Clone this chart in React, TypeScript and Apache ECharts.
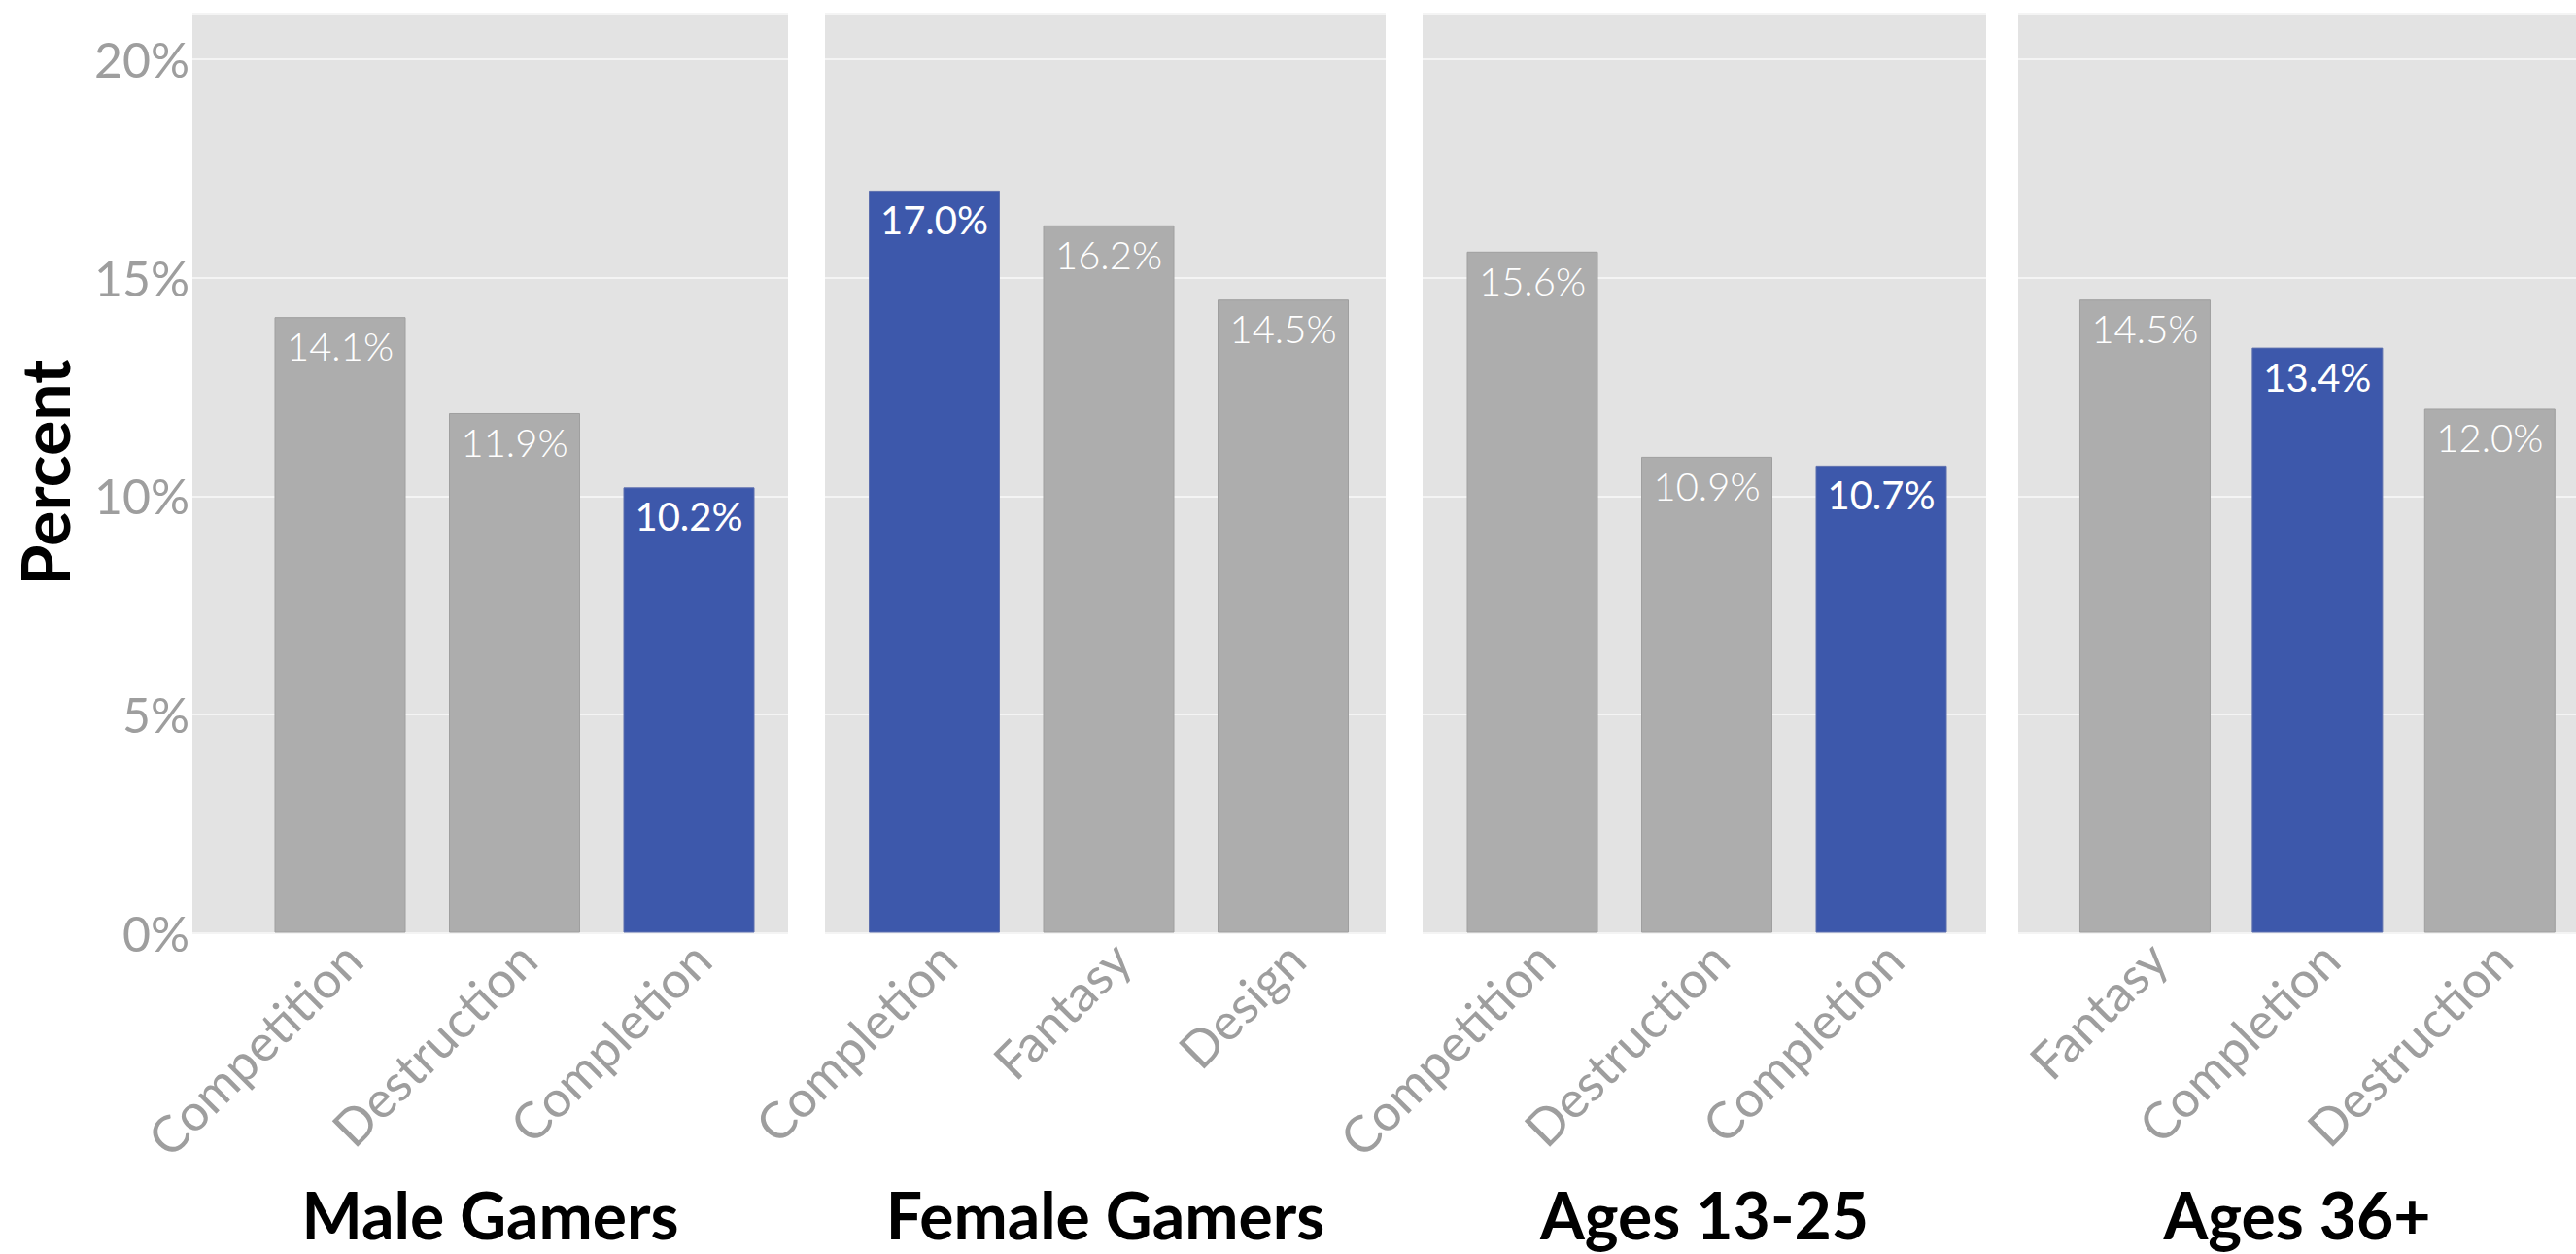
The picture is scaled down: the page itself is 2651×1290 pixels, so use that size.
import React, { useEffect, useRef } from 'react';
import * as echarts from 'echarts';

// ---------- data ----------
const maleCategories = ['Competition', 'Destruction', 'Completion'];
const maleValues = [14.1, 11.9, 10.2];
const femaleCategories = ['Completion', 'Fantasy', 'Design'];
const femaleValues = [17.0, 16.2, 14.5];
const youngCategories = ['Competition', 'Destruction', 'Completion'];
const youngValues = [15.6, 10.9, 10.7];
const olderCategories = ['Fantasy', 'Completion', 'Destruction'];
const olderValues = [14.5, 13.4, 12.0];
const panelTitles = ['Male Gamers', 'Female Gamers', 'Ages 13-25', 'Ages 36+'];
const highlightCategory = 'Completion';
const yTickValues = [0, 5, 10, 15, 20];
const yAxisTitle = 'Percent';

// ---------- layout / style ----------
const W = 2651;
const H = 1290;
const PANEL_TOP = 14;
const PANEL_HEIGHT = 945.5;
const Y_MAX = 21.05;
const panelBoxes = [
  [198, 811],
  [849, 1426],
  [1464, 2044],
  [2077, 2651],
];
const firstBarCenters = [350, 961.5, 1577, 2208.5];
const BAND = 179.5;
const BAR_WIDTH = 135;
const GRAY = '#adadad';
const BLUE = '#3d58ab';
const PANEL_BG = '#e3e3e3';
const AXIS_TEXT = '#9e9e9e';
const FONT = 'Lato';

const panels = [
  { cats: maleCategories, vals: maleValues },
  { cats: femaleCategories, vals: femaleValues },
  { cats: youngCategories, vals: youngValues },
  { cats: olderCategories, vals: olderValues },
];

export default function App() {
  const ref = useRef<HTMLDivElement>(null);

  useEffect(() => {
    if (!ref.current) return;
    const chart = echarts.init(ref.current, undefined, { renderer: 'svg', width: W, height: H });

    const grid: any[] = [];
    const xAxis: any[] = [];
    const yAxis: any[] = [];
    const series: any[] = [];

    // background grids (panel rect + gridlines)
    panelBoxes.forEach((b, i) => {
      grid.push({
        left: b[0],
        width: b[1] - b[0],
        top: PANEL_TOP,
        height: PANEL_HEIGHT,
        show: true,
        backgroundColor: PANEL_BG,
        borderWidth: 0,
      });
      xAxis.push({ type: 'value', gridIndex: i, show: false, min: 0, max: 1 });
      yAxis.push({
        type: 'value',
        gridIndex: i,
        min: 0,
        max: Y_MAX,
        interval: 5,
        axisLine: { show: false },
        axisTick: { show: false },
        splitLine: { show: true, lineStyle: { color: '#f4f4f4', width: 2 } },
        axisLabel:
          i === 0
            ? {
                show: true,
                margin: 3,
                fontSize: 50,
                fontFamily: FONT,
                color: AXIS_TEXT,
                padding: [24, 0, 0, 0],
                showMaxLabel: false,
                formatter: (v: number) => (yTickValues.includes(v) ? v + '%' : ''),
              }
            : { show: false },
      });
    });

    // bar grids
    panels.forEach((p, i) => {
      const gi = 4 + i;
      grid.push({
        left: firstBarCenters[i] - BAND / 2,
        width: BAND * 3,
        top: PANEL_TOP,
        height: PANEL_HEIGHT,
        show: false,
      });
      xAxis.push({
        type: 'category',
        gridIndex: gi,
        data: p.cats,
        axisLine: { show: false },
        axisTick: { show: false },
        splitLine: { show: false },
        axisLabel: {
          interval: 0,
          rotate: 45,
          align: 'right',
          verticalAlign: 'top',
          margin: 5,
          lineHeight: 36,
          fontSize: 52,
          fontFamily: FONT,
          color: AXIS_TEXT,
        },
      });
      yAxis.push({ type: 'value', gridIndex: gi, min: 0, max: Y_MAX, show: false, splitLine: { show: false } });
      series.push({
        type: 'bar',
        xAxisIndex: gi,
        yAxisIndex: gi,
        barWidth: BAR_WIDTH,
        data: p.vals.map((v, j) => {
          const hi = p.cats[j] === highlightCategory;
          return {
            value: v,
            itemStyle: {
              color: hi ? BLUE : GRAY,
              borderColor: hi ? '#5d6fae' : '#9f9f9f',
              borderWidth: 1,
            },
            label: { fontWeight: hi ? 'normal' : 300 },
          };
        }),
        label: {
          show: true,
          position: 'insideTop',
          distance: 10,
          color: '#ffffff',
          fontSize: 40,
          fontFamily: FONT,
          formatter: (prm: any) => Number(prm.value).toFixed(1) + '%',
        },
      });
    });

    const graphic: any[] = panelTitles.map((t, i) => ({
      type: 'text',
      x: (panelBoxes[i][0] + panelBoxes[i][1]) / 2,
      y: 1249,
      style: {
        text: t,
        fontSize: 66,
        fontWeight: 'bold',
        fontFamily: FONT,
        fill: '#000000',
        align: 'center',
        verticalAlign: 'middle',
        lineHeight: 56,
      },
    }));
    graphic.push({
      type: 'text',
      x: 45,
      y: 486,
      rotation: Math.PI / 2,
      style: {
        text: yAxisTitle,
        fontSize: 68,
        fontWeight: 'bold',
        fontFamily: FONT,
        fill: '#000000',
        align: 'center',
        verticalAlign: 'middle',
      },
    });

    chart.setOption({
      animation: false,
      backgroundColor: '#ffffff',
      grid,
      xAxis,
      yAxis,
      series,
      graphic,
    });

    return () => chart.dispose();
  }, []);

  return (
    <div
      ref={ref}
      style={{ position: 'absolute', left: 0, top: 0, width: W, height: H, background: '#fff' }}
    />
  );
}
